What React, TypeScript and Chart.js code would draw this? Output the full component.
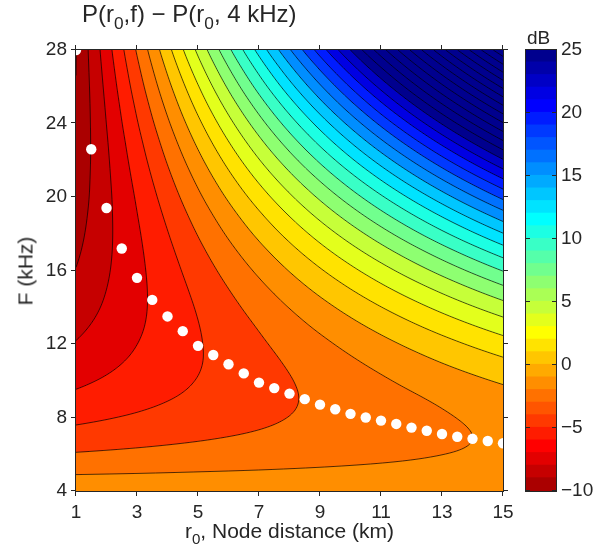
import React, { useEffect, useRef } from "react";
import { Chart, registerables } from "chart.js";

Chart.register(...registerables);

// ---- data ----
// distance columns (km) and frequency rows (kHz) of the sampled field
const distKm = [1, 3, 5, 7, 9, 11, 13, 15];
const freqKHz = [4, 5, 6, 7, 8, 9, 10, 11, 12, 13, 14, 15, 16, 17, 18, 19, 20, 21, 22, 23, 24, 25, 26, 27, 28];

// P(r0,f) - P(r0,4 kHz) in dB: one row per frequency (freqKHz), one column per distance (distKm)
const powerDiffDb = [
  [0, 0, 0, 0, 0, 0, 0, 0],
  [-1.66, -1.56, -1.45, -1.35, -1.24, -1.13, -1.03, -0.92],
  [-2.88, -2.66, -2.43, -2.2, -1.98, -1.75, -1.51, -1.27],
  [-3.95, -3.58, -3.21, -2.84, -2.47, -2.08, -1.69, -1.31],
  [-4.85, -4.32, -3.78, -3.25, -2.71, -2.18, -1.62, -1.08],
  [-5.63, -4.91, -4.19, -3.47, -2.75, -2.03, -1.31, -0.59],
  [-6.3, -5.38, -4.45, -3.52, -2.6, -1.67, -0.74, 0.18],
  [-6.89, -5.74, -4.59, -3.43, -2.28, -1.13, 0.03, 1.18],
  [-7.41, -6.01, -4.61, -3.21, -1.82, -0.42, 0.98, 2.38],
  [-7.87, -6.21, -4.54, -2.88, -1.21, 0.45, 2.12, 3.78],
  [-8.28, -6.33, -4.38, -2.43, -0.48, 1.47, 3.42, 5.37],
  [-8.63, -6.38, -4.13, -1.88, 0.38, 2.63, 4.88, 7.14],
  [-8.95, -6.37, -3.8, -1.23, 1.35, 3.92, 6.5, 9.07],
  [-9.23, -6.31, -3.4, -0.49, 2.43, 5.34, 8.25, 11.16],
  [-9.47, -6.2, -2.93, 0.34, 3.61, 6.88, 10.15, 13.42],
  [-9.68, -6.04, -2.4, 1.24, 4.89, 8.53, 12.17, 15.81],
  [-9.87, -5.84, -1.8, 2.23, 6.26, 10.29, 14.32, 18.36],
  [-10.02, -5.59, -1.15, 3.29, 7.72, 12.16, 16.6, 21.03],
  [-10.16, -5.3, -0.44, 4.42, 9.27, 14.13, 18.99, 23.85],
  [-10.27, -4.98, 0.32, 5.61, 10.9, 16.2, 21.49, 26.78],
  [-10.36, -4.61, 1.13, 6.87, 12.61, 18.36, 24.1, 29.84],
  [-10.43, -4.22, 1.99, 8.19, 14.4, 20.61, 26.81, 33.02],
  [-10.48, -3.79, 2.89, 9.58, 16.26, 22.94, 29.63, 36.31],
  [-10.51, -3.34, 3.84, 11.01, 18.19, 25.36, 32.54, 39.71],
  [-10.53, -2.85, 4.83, 12.51, 20.19, 27.86, 35.54, 43.22],
];

// optimum frequency for each node distance (white dots)
const optDistKm = [1, 1.5, 2, 2.5, 3, 3.5, 4, 4.5, 5, 5.5, 6, 6.5, 7, 7.5, 8, 8.5, 9, 9.5, 10, 10.5, 11, 11.5, 12, 12.5, 13, 13.5, 14, 14.5, 15];
const optFreqKHz = [28.0, 22.6, 19.4, 17.2, 15.6, 14.4, 13.5, 12.7, 11.9, 11.4, 10.9, 10.4, 9.9, 9.6, 9.3, 9.0, 8.7, 8.45, 8.2, 8.0, 7.83, 7.65, 7.45, 7.28, 7.1, 6.95, 6.84, 6.72, 6.6];

const xTicks = [1, 3, 5, 7, 9, 11, 13, 15];
const yTicks = [4, 8, 12, 16, 20, 24, 28];
const cbTicks = [-10, -5, 0, 5, 10, 15, 20, 25];

// ---- styling ----
const CONTOUR_STEP = 1.5;
const CB_MIN = -10;
const CB_MAX = 25;
const N_COLORS = 35;
const FONT = "'Liberation Sans', Arial, Helvetica, sans-serif";
const AX_COLOR = "#262626";

function jet(m: number): number[][] {
  const n = Math.ceil(m / 4);
  const u: number[] = [];
  for (let i = 1; i <= n; i++) u.push(i / n);
  for (let i = 1; i < n; i++) u.push(1);
  for (let i = n; i >= 1; i--) u.push(i / n);
  const g0 = Math.ceil(n / 2) - (m % 4 === 1 ? 1 : 0);
  const out = Array.from({ length: m }, () => [0, 0, 0]);
  for (let k = 0; k < u.length; k++) {
    const gi = g0 + k + 1;
    const ri = gi + n;
    const bi = gi - n;
    if (ri >= 1 && ri <= m) out[ri - 1][0] = u[k];
    if (gi >= 1 && gi <= m) out[gi - 1][1] = u[k];
    if (bi >= 1 && bi <= m) out[bi - 1][2] = u[k];
  }
  return out.map((c) => c.map((v) => Math.round(v * 255)));
}
const JET = jet(N_COLORS);

function rgbFor(value: number): number[] {
  let idx = Math.floor(value - CB_MIN + 1e-9);
  if (idx < 0) idx = 0;
  if (idx > N_COLORS - 1) idx = N_COLORS - 1;
  return JET[N_COLORS - 1 - idx];
}
function cssFor(value: number): string {
  const c = rgbFor(value);
  return `rgb(${c[0]},${c[1]},${c[2]})`;
}

function makeSampler() {
  const nC = distKm.length;
  const nR = freqKHz.length;
  const dr = distKm[1] - distKm[0];
  const df = freqKHz[1] - freqKHz[0];
  const g = (jj: number, i0: number, tx: number) =>
    powerDiffDb[jj][i0] * (1 - tx) + powerDiffDb[jj][i0 + 1] * tx;
  const rowAt = (j: number, i0: number, tx: number) => {
    if (j < 0) return 2 * g(0, i0, tx) - g(1, i0, tx);
    if (j > nR - 1) return 2 * g(nR - 1, i0, tx) - g(nR - 2, i0, tx);
    return g(j, i0, tx);
  };
  return (r: number, f: number) => {
    const cx = (r - distKm[0]) / dr;
    let i0 = Math.floor(cx);
    if (i0 < 0) i0 = 0;
    if (i0 > nC - 2) i0 = nC - 2;
    const tx = cx - i0;
    const cy = (f - freqKHz[0]) / df;
    let j = Math.floor(cy);
    if (j < 0) j = 0;
    if (j > nR - 2) j = nR - 2;
    const t = cy - j;
    const p0 = rowAt(j - 1, i0, tx);
    const p1 = rowAt(j, i0, tx);
    const p2 = rowAt(j + 1, i0, tx);
    const p3 = rowAt(j + 2, i0, tx);
    return 0.5 * (2 * p1 + (-p0 + p2) * t + (2 * p0 - 5 * p1 + 4 * p2 - p3) * t * t + (-p0 + 3 * p1 - 3 * p2 + p3) * t * t * t);
  };
}

const fieldPlugin = {
  id: "contourField",
  beforeDatasetsDraw(chart: any) {
    const { ctx, chartArea, scales } = chart;
    const xs = scales.x;
    const ys = scales.y;
    const left = Math.round(chartArea.left);
    const top = Math.round(chartArea.top);
    const W = Math.round(chartArea.right) - left;
    const H = Math.round(chartArea.bottom) - top;
    const sample = makeSampler();

    // filled bands
    const img = ctx.createImageData(W, H);
    const d = img.data;
    const rCenters = new Float64Array(W);
    for (let i = 0; i < W; i++) rCenters[i] = xs.getValueForPixel(left + i + 0.5);
    for (let j = 0; j < H; j++) {
      const f = ys.getValueForPixel(top + j + 0.5);
      for (let i = 0; i < W; i++) {
        const v = sample(rCenters[i], f);
        const lvl = Math.floor(v / CONTOUR_STEP + 1e-9) * CONTOUR_STEP;
        const c = rgbFor(lvl);
        const o = (j * W + i) * 4;
        d[o] = c[0];
        d[o + 1] = c[1];
        d[o + 2] = c[2];
        d[o + 3] = 255;
      }
    }
    ctx.putImageData(img, left, top);

    // contour lines (marching squares on pixel corners)
    const cw = W + 1;
    const ch = H + 1;
    const vals = new Float64Array(cw * ch);
    const rCorners = new Float64Array(cw);
    for (let i = 0; i < cw; i++) rCorners[i] = xs.getValueForPixel(left + i);
    for (let j = 0; j < ch; j++) {
      const f = ys.getValueForPixel(top + j);
      for (let i = 0; i < cw; i++) vals[j * cw + i] = sample(rCorners[i], f);
    }
    ctx.save();
    ctx.beginPath();
    ctx.rect(left, top, W, H);
    ctx.clip();
    ctx.beginPath();
    const seg = (x1: number, y1: number, x2: number, y2: number) => {
      ctx.moveTo(left + x1, top + y1);
      ctx.lineTo(left + x2, top + y2);
    };
    for (let j = 0; j < H; j++) {
      for (let i = 0; i < W; i++) {
        const a = vals[j * cw + i];
        const b = vals[j * cw + i + 1];
        const c = vals[(j + 1) * cw + i + 1];
        const e = vals[(j + 1) * cw + i];
        const mn = Math.min(a, b, c, e);
        const mx = Math.max(a, b, c, e);
        const k0 = Math.ceil(mn / CONTOUR_STEP);
        const k1 = Math.ceil(mx / CONTOUR_STEP) - 1;
        for (let k = k0; k <= k1; k++) {
          const L = k * CONTOUR_STEP;
          const cs = (a > L ? 8 : 0) | (b > L ? 4 : 0) | (c > L ? 2 : 0) | (e > L ? 1 : 0);
          if (cs === 0 || cs === 15) continue;
          const tX = i + (L - a) / (b - a), tY = j;
          const rX = i + 1, rY = j + (L - b) / (c - b);
          const bX = i + (L - e) / (c - e), bY = j + 1;
          const lX = i, lY = j + (L - a) / (e - a);
          switch (cs) {
            case 1: case 14: seg(lX, lY, bX, bY); break;
            case 2: case 13: seg(bX, bY, rX, rY); break;
            case 3: case 12: seg(lX, lY, rX, rY); break;
            case 4: case 11: seg(tX, tY, rX, rY); break;
            case 6: case 9: seg(tX, tY, bX, bY); break;
            case 7: case 8: seg(lX, lY, tX, tY); break;
            case 5: seg(lX, lY, tX, tY); seg(bX, bY, rX, rY); break;
            case 10: seg(tX, tY, rX, rY); seg(lX, lY, bX, bY); break;
          }
        }
      }
    }
    ctx.lineWidth = 0.75;
    ctx.strokeStyle = "rgba(0,0,0,0.9)";
    ctx.stroke();
    ctx.restore();
  },
  afterDraw(chart: any) {
    const { ctx, chartArea, scales } = chart;
    const { left, top, right, bottom } = chartArea;
    ctx.save();
    ctx.strokeStyle = AX_COLOR;
    ctx.lineWidth = 1;
    ctx.strokeRect(left - 0.5, top - 0.5, right - left + 1, bottom - top + 1);
    ctx.beginPath();
    const TL = 5;
    xTicks.forEach((v) => {
      const p = Math.round(scales.x.getPixelForValue(v)) - 0.5;
      ctx.moveTo(p, bottom);
      ctx.lineTo(p, bottom + TL);
      ctx.moveTo(p, top);
      ctx.lineTo(p, top - TL);
    });
    yTicks.forEach((v) => {
      const p = Math.round(scales.y.getPixelForValue(v)) - 0.5;
      ctx.moveTo(left, p);
      ctx.lineTo(left - TL, p);
      ctx.moveTo(right, p);
      ctx.lineTo(right + TL, p);
    });
    ctx.stroke();
    ctx.restore();
  },
};

const cbFramePlugin = {
  id: "cbFrame",
  afterDraw(chart: any) {
    const { ctx, chartArea, scales } = chart;
    const { left, top, right, bottom } = chartArea;
    ctx.save();
    ctx.strokeStyle = AX_COLOR;
    ctx.lineWidth = 1;
    ctx.strokeRect(left - 0.5, top - 0.5, right - left + 1, bottom - top + 1);
    ctx.beginPath();
    cbTicks.forEach((v) => {
      const p = Math.round(scales.y.getPixelForValue(v)) - 0.5;
      ctx.moveTo(left, p);
      ctx.lineTo(left + 4, p);
      ctx.moveTo(right, p);
      ctx.lineTo(right - 4, p);
    });
    ctx.stroke();
    ctx.restore();
  },
};

const minusFmt = (v: any) => (Number(v) < 0 ? "\u2212" + Math.abs(Number(v)) : String(v));

export default function App() {
  const mainRef = useRef<HTMLCanvasElement>(null);
  const cbRef = useRef<HTMLCanvasElement>(null);

  useEffect(() => {
    const tickFont = { family: FONT, size: 19 };
    const main = new Chart(mainRef.current as HTMLCanvasElement, {
      type: "scatter",
      data: {
        datasets: [
          {
            label: "optimum frequency",
            data: optDistKm.map((r, i) => ({ x: r, y: optFreqKHz[i] })),
            pointRadius: 5.2,
            pointHoverRadius: 5.2,
            pointBackgroundColor: "#ffffff",
            pointBorderWidth: 0,
            borderWidth: 0,
            showLine: false,
            clip: 0,
          } as any,
        ],
      },
      options: {
        animation: false,
        responsive: false,
        devicePixelRatio: 1,
        events: [],
        layout: { padding: { left: 0, right: 105, top: 50, bottom: 0 } },
        plugins: { legend: { display: false }, tooltip: { enabled: false }, title: { display: false } },
        scales: {
          x: {
            type: "linear",
            min: 1,
            max: 15,
            afterBuildTicks: (s: any) => { s.ticks = xTicks.map((v) => ({ value: v })); },
            afterFit: (s: any) => { s.height = 63; },
            ticks: { font: tickFont, color: AX_COLOR, padding: 10, maxRotation: 0, autoSkip: false },
            grid: { display: false, drawTicks: false, tickLength: 0 },
            border: { display: false },
          },
          y: {
            type: "linear",
            min: 4,
            max: 28,
            afterBuildTicks: (s: any) => { s.ticks = yTicks.map((v) => ({ value: v })); },
            afterFit: (s: any) => { s.width = 76; },
            ticks: { font: tickFont, color: AX_COLOR, padding: 9, autoSkip: false },
            grid: { display: false, drawTicks: false, tickLength: 0 },
            border: { display: false },
          },
        },
      } as any,
      plugins: [fieldPlugin],
    });

    const edges: number[] = [];
    for (let v = CB_MIN; v <= CB_MAX; v += (CB_MAX - CB_MIN) / N_COLORS) edges.push(v);
    const cb = new Chart(cbRef.current as HTMLCanvasElement, {
      type: "bar",
      data: {
        labels: ["dB"],
        datasets: edges.slice(0, -1).map((lo, i) => ({
          label: "band " + lo,
          data: [[lo, edges[i + 1] + 0.06]],
          backgroundColor: cssFor(lo + 0.5),
          borderWidth: 0,
          barPercentage: 1,
          categoryPercentage: 1,
          grouped: false,
        })) as any,
      },
      options: {
        animation: false,
        responsive: false,
        devicePixelRatio: 1,
        events: [],
        layout: { padding: { left: 26, right: 0, top: 50, bottom: 63 } },
        plugins: { legend: { display: false }, tooltip: { enabled: false } },
        scales: {
          x: { display: false },
          y: {
            position: "right",
            min: CB_MIN,
            max: CB_MAX,
            afterBuildTicks: (s: any) => { s.ticks = cbTicks.map((v) => ({ value: v })); },
            afterFit: (s: any) => { s.width = 52; },
            ticks: { font: tickFont, color: AX_COLOR, padding: 5, callback: minusFmt },
            grid: { display: false, drawTicks: false, tickLength: 0 },
            border: { display: false },
          },
        },
      } as any,
      plugins: [cbFramePlugin],
    });

    return () => {
      main.destroy();
      cb.destroy();
    };
  }, []);

  const subStyle: React.CSSProperties = { fontSize: "0.72em", verticalAlign: "-0.38em", lineHeight: 0 };
  return (
    <div style={{ position: "absolute", left: 0, top: 0, width: 608, height: 554, background: "#fff", fontFamily: FONT, color: AX_COLOR, overflow: "hidden" }}>
      <canvas ref={mainRef} width={608} height={554} style={{ position: "absolute", left: 0, top: 0, width: 608, height: 554 }} />
      <canvas ref={cbRef} width={108} height={554} style={{ position: "absolute", left: 500, top: 0, width: 108, height: 554 }} />
      <div style={{ position: "absolute", left: 82, top: 2, fontSize: 24, lineHeight: "24px", whiteSpace: "nowrap" }}>
        P(r<span style={subStyle}>0</span>,f) − P(r<span style={subStyle}>0</span>, 4 kHz)
      </div>
      <div style={{ position: "absolute", left: 527, top: 28, fontSize: 19, lineHeight: "19px", whiteSpace: "nowrap" }}>dB</div>
      <div style={{ position: "absolute", left: 289.5, top: 520, fontSize: 21, lineHeight: "21px", whiteSpace: "nowrap", transform: "translateX(-50%)" }}>
        r<span style={subStyle}>0</span>, Node distance (km)
      </div>
      <div style={{ position: "absolute", left: 25, top: 271, fontSize: 21, lineHeight: "21px", whiteSpace: "nowrap", transform: "translate(-50%, -50%) rotate(-90deg)" }}>
        F (kHz)
      </div>
    </div>
  );
}
